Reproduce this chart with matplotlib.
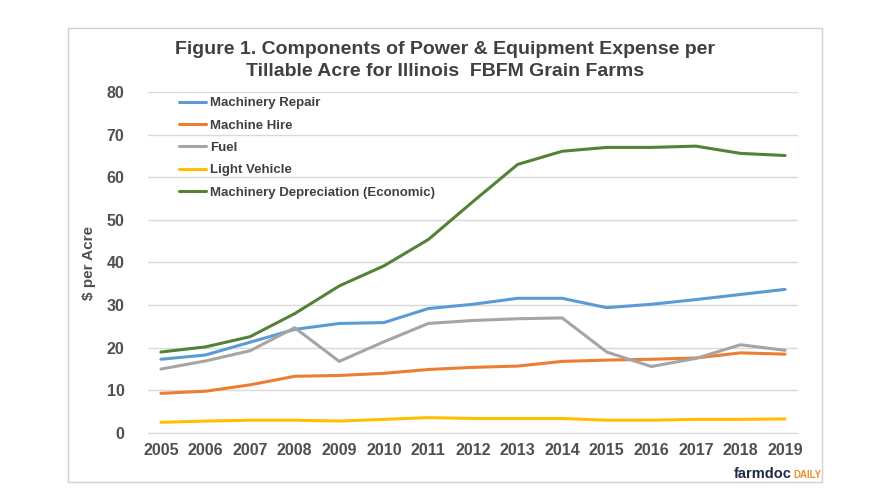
import matplotlib
matplotlib.use("Agg")
import matplotlib.pyplot as plt
from matplotlib.patches import Rectangle

plt.rcParams['font.family'] = ['Liberation Sans', 'DejaVu Sans']

years = [2005, 2006, 2007, 2008, 2009, 2010, 2011, 2012, 2013, 2014, 2015, 2016, 2017, 2018, 2019]
machinery_repair = [17.3, 18.3, 21.3, 24.3, 25.7, 25.9, 29.2, 30.2, 31.6, 31.6, 29.4, 30.2, 31.3, 32.5, 33.7]
machine_hire = [9.3, 9.8, 11.3, 13.3, 13.5, 14.0, 14.9, 15.4, 15.7, 16.8, 17.1, 17.3, 17.6, 18.8, 18.5]
fuel = [15.0, 16.9, 19.3, 24.7, 16.8, 21.4, 25.7, 26.4, 26.8, 27.0, 19.0, 15.6, 17.5, 20.7, 19.4]
light_vehicle = [2.5, 2.8, 3.0, 3.0, 2.8, 3.2, 3.6, 3.4, 3.4, 3.4, 3.0, 3.0, 3.2, 3.2, 3.3]
depreciation = [19.0, 20.2, 22.6, 28.0, 34.5, 39.2, 45.4, 54.3, 63.0, 66.1, 67.0, 67.0, 67.3, 65.6, 65.1]

series_names = ["Machinery Repair", "Machine Hire", "Fuel", "Light Vehicle",
                "Machinery Depreciation (Economic)"]
series_values = [machinery_repair, machine_hire, fuel, light_vehicle, depreciation]
colors = ["#5B9BD5", "#ED7D31", "#A5A5A5", "#FFC000", "#548235"]
y_ticks = [0, 10, 20, 30, 40, 50, 60, 70, 80]

fig = plt.figure(figsize=(8.89, 5.0), dpi=100)
fig.patch.set_facecolor("white")

# outer border
fig.patches.append(Rectangle((68 / 889, 1 - 482 / 500), (822 - 68) / 889, (482 - 28) / 500,
                             transform=fig.transFigure, fill=False, edgecolor="#D0D0D0",
                             linewidth=1.0))

ax = fig.add_axes([148 / 889, 1 - 433 / 500, (798 - 148) / 889, (433 - 92) / 500])
for name, vals, c in zip(series_names, series_values, colors):
    ax.plot(years, vals, color=c, linewidth=2.2, label=name, solid_capstyle="round")

ax.set_xlim(2004.71, 2019.29)
ax.set_ylim(0, 80)
ax.set_yticks(y_ticks)
ax.set_xticks(years)
ax.set_xticklabels([str(y) for y in years])
ax.grid(axis="y", color="#D9D9D9", linewidth=1.0)
ax.set_axisbelow(True)
for s in ["top", "right", "left"]:
    ax.spines[s].set_visible(False)
ax.spines["bottom"].set_color("#D9D9D9")
ax.tick_params(length=0, colors="#505050", labelsize=11.5)
ax.tick_params(axis="x", pad=7)
ax.tick_params(axis="y", pad=17)
for lab in ax.get_xticklabels() + ax.get_yticklabels():
    lab.set_fontweight("bold")
ax.set_ylabel("$ per Acre", fontsize=11, fontweight="bold", color="#505050")
ax.yaxis.set_label_coords((96 - 148) / 650, 0.5)

leg = ax.legend(loc="upper left", bbox_to_anchor=(0.03, 1.02), frameon=False,
                prop={"size": 9.5, "weight": "bold"}, handlelength=2.0, handletextpad=0.3,
                labelspacing=0.77, labelcolor="#404040")

fig.text(445 / 889, 1 - 50 / 500, "Figure 1. Components of Power & Equipment Expense per",
         ha="center", va="center", fontsize=14, fontweight="bold", color="#404040")
fig.text(445 / 889, 1 - 72 / 500, "Tillable Acre for Illinois  FBFM Grain Farms",
         ha="center", va="center", fontsize=14, fontweight="bold", color="#404040")

# logo
fig.text(792 / 889, 1 - 474 / 500, "farmdoc", ha="right", va="center",
         fontsize=10.5, fontweight="bold", color="#1F2A44")
fig.text(793 / 889, 1 - 475 / 500, "DAILY", ha="left", va="center",
         fontsize=7, fontweight="bold", color="#F28C28")

fig.savefig("out.png", dpi=100)
